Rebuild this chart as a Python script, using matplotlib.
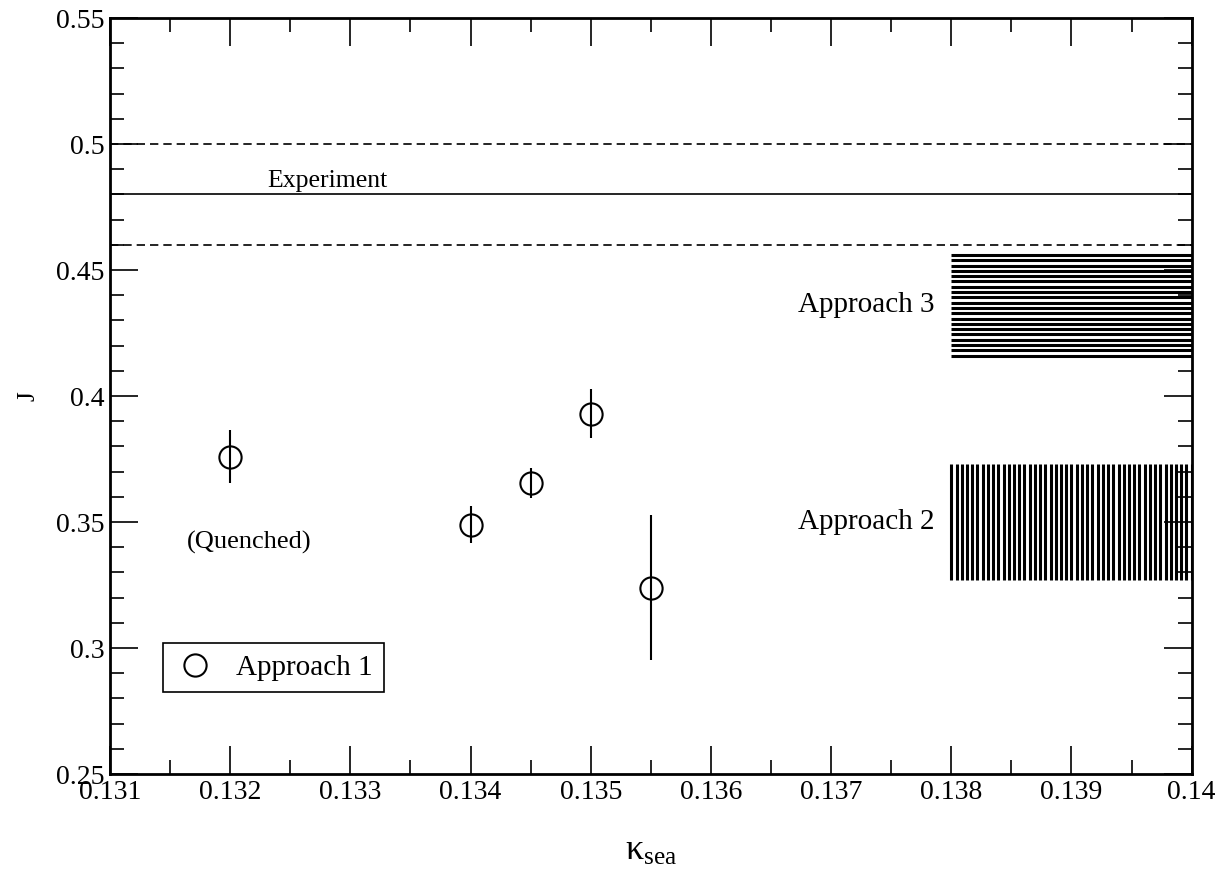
import numpy as np
import matplotlib
matplotlib.use("Agg")
import matplotlib.pyplot as plt
from matplotlib.lines import Line2D
from matplotlib.ticker import MultipleLocator, FormatStrFormatter

plt.rcParams['font.family'] = ['Liberation Serif', 'DejaVu Serif']
plt.rcParams['mathtext.fontset'] = 'stix'

# Approach 1 data
kappa = [0.132, 0.134, 0.1345, 0.135, 0.1355]
J = [0.376, 0.349, 0.3655, 0.393, 0.324]
J_err = [0.0105, 0.0075, 0.006, 0.0098, 0.0288]

# Experiment
exp_val = 0.48
exp_err = 0.02

# Bands (x range, y range)
band_x = [0.138, 0.14]
approach3 = [0.416, 0.456]
approach2 = [0.327, 0.373]
n_stripes3 = 20
n_stripes2 = 47

fig = plt.figure(figsize=(12.25, 8.84), dpi=100)
ax = fig.add_axes([0.0898, 0.1244, 0.883, 0.8552])

ax.axhline(exp_val, color='black', lw=1.2)
ax.axhline(exp_val + exp_err, color='black', lw=1.2, ls=(0, (5, 3)))
ax.axhline(exp_val - exp_err, color='black', lw=1.2, ls=(0, (5, 3)))

# Approach 3 band: horizontal stripes
ys = np.linspace(approach3[0], approach3[1], n_stripes3)
ax.hlines(ys, band_x[0], band_x[1], color='black', lw=2.2, zorder=3)
# Approach 2 band: vertical stripes
xs = np.linspace(band_x[0], band_x[1], n_stripes2)
ax.vlines(xs, approach2[0], approach2[1], color='black', lw=2.2, zorder=3)

ax.errorbar(kappa, J, yerr=J_err, fmt='o', mfc='none', mec='black', mew=1.5,
            ms=16, ecolor='black', elinewidth=1.5, capsize=0, zorder=5)

ax.text(0.13231, 0.4853, 'Experiment', fontsize=18.5, va='center', ha='left')
ax.text(0.13164, 0.342, '(Quenched)', fontsize=19, va='center', ha='left')
ax.text(0.13786, 0.436, 'Approach 3', fontsize=21, va='center', ha='right')
ax.text(0.13786, 0.350, 'Approach 2', fontsize=21, va='center', ha='right')

proxy = Line2D([], [], ls='none', marker='o', mfc='none', mec='black',
               mew=1.5, ms=16)
leg = ax.legend([proxy], ['Approach 1'], loc='lower left',
                bbox_to_anchor=(0.049, 0.108), fontsize=21,
                frameon=True, fancybox=False, edgecolor='black', framealpha=1,
                handletextpad=0.7, borderpad=0.4, handlelength=1.4,
                borderaxespad=0)
leg.get_frame().set_linewidth(1.2)

ax.set_xlim(0.131, 0.14)
ax.set_ylim(0.25, 0.55)
ax.xaxis.set_major_locator(MultipleLocator(0.001))
ax.xaxis.set_minor_locator(MultipleLocator(0.0005))
ax.yaxis.set_major_locator(MultipleLocator(0.05))
ax.yaxis.set_minor_locator(MultipleLocator(0.01))
ax.xaxis.set_major_formatter(FormatStrFormatter('%g'))
ax.yaxis.set_major_formatter(FormatStrFormatter('%g'))
ax.tick_params(which='both', direction='in', top=True, right=True, width=1.2)
ax.tick_params(which='major', length=20, labelsize=20, pad=4)
ax.tick_params(which='minor', length=10)
for s in ax.spines.values():
    s.set_linewidth(2)

ax.set_xlabel(r'$\mathregular{\kappa_{sea}}$', fontsize=26, labelpad=22)
ax.set_ylabel('J', fontsize=18, labelpad=12)

fig.savefig('out.png', dpi=100)
